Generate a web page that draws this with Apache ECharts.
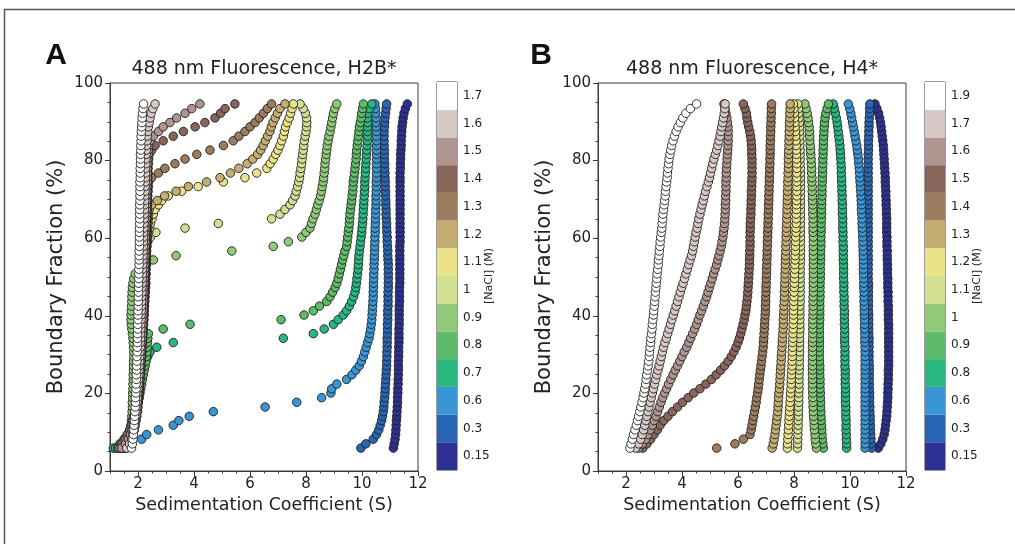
<!DOCTYPE html>
<html><head><meta charset="utf-8">
<script src="https://cdn.jsdelivr.net/npm/echarts@6/dist/echarts.min.js"></script>
<style>html,body{margin:0;padding:0;background:#fff}#c{width:1015px;height:544px}</style>
</head><body><div id="c"></div>
<script>
// Boundary fractions (%) shared by all van Holde-Weischet curves
const bf = [5.9,7.0,8.2,9.4,10.6,11.8,13.0,14.1,15.3,16.5,
17.7,18.9,20.1,21.2,22.4,23.6,24.8,26.0,27.1,28.3,
29.5,30.7,31.9,33.1,34.2,35.4,36.6,37.8,39.0,40.2,
41.3,42.5,43.7,44.9,46.1,47.3,48.4,49.6,50.8,52.0,
53.2,54.4,55.5,56.7,57.9,59.1,60.3,61.5,62.6,63.8,
65.0,66.2,67.4,68.6,69.7,70.9,72.1,73.3,74.5,75.6,
76.8,78.0,79.2,80.4,81.6,82.7,83.9,85.1,86.3,87.5,
88.7,89.8,91.0,92.2,93.4,94.6];

const concA = ['0.15','0.3','0.6','0.7','0.8','0.9','1','1.1','1.2','1.3','1.4','1.5','1.6','1.7'];
const concB = ['0.15','0.3','0.6','0.8','0.9','1','1.1','1.2','1.3','1.4','1.5','1.6','1.7','1.9'];
const bandColors = ['#2d3191','#2a65b4','#3a95d5','#29b67f','#5ebb69','#90ca78','#d2e094','#eae38a','#c4ae72','#9b7c5e','#89665c','#ae958f','#d7cac6','#ffffff'];
const xTicks = [2,4,6,8,10,12];

// Panel A: sedimentation coefficients (S) per boundary fraction
const a015 = [11.12,11.15,11.18,11.2,11.21,11.22,11.23,11.24,11.25,11.26,
11.27,11.27,11.28,11.28,11.29,11.29,11.3,11.3,11.3,11.3,
11.31,11.31,11.31,11.32,11.32,11.32,11.32,11.33,11.33,11.33,
11.33,11.33,11.34,11.34,11.34,11.34,11.35,11.35,11.35,11.35,
11.35,11.35,11.35,11.35,11.35,11.36,11.36,11.36,11.36,11.36,
11.36,11.36,11.36,11.36,11.36,11.36,11.36,11.36,11.36,11.36,
11.36,11.37,11.37,11.38,11.38,11.39,11.4,11.4,11.41,11.42,
11.43,11.45,11.47,11.5,11.55,11.62];
const a03 = [9.96,10.14,10.4,10.52,10.6,10.65,10.7,10.73,10.76,10.78,
10.79,10.81,10.82,10.83,10.84,10.85,10.86,10.87,10.88,10.88,
10.89,10.89,10.9,10.9,10.9,10.91,10.91,10.91,10.92,10.92,
10.92,10.93,10.93,10.93,10.93,10.94,10.94,10.94,10.94,10.94,
10.94,10.93,10.92,10.92,10.91,10.9,10.9,10.89,10.88,10.88,
10.87,10.86,10.86,10.85,10.85,10.84,10.84,10.83,10.83,10.82,
10.82,10.81,10.81,10.8,10.8,10.8,10.79,10.79,10.79,10.79,
10.8,10.81,10.82,10.84,10.86,10.88];
const a06 = [1.12,1.55,2.13,2.31,2.73,3.26,3.46,3.83,4.69,6.54,
7.67,8.56,8.89,8.92,9.1,9.45,9.64,9.78,9.9,9.98,
10.05,10.1,10.15,10.2,10.25,10.28,10.31,10.33,10.35,10.36,
10.37,10.38,10.39,10.4,10.4,10.41,10.41,10.42,10.42,10.43,
10.43,10.44,10.44,10.45,10.45,10.46,10.46,10.47,10.47,10.48,
10.48,10.49,10.49,10.5,10.5,10.5,10.51,10.51,10.51,10.52,
10.52,10.52,10.52,10.52,10.52,10.52,10.52,10.52,10.52,10.52,
10.51,10.5,10.5,10.49,10.48,10.46];
const a07 = [1.2,1.35,1.5,1.62,1.72,1.8,1.86,1.9,1.94,1.97,
2.0,2.03,2.05,2.08,2.1,2.13,2.16,2.2,2.24,2.28,
2.35,2.43,2.67,3.26,7.19,8.26,8.65,8.98,9.15,9.33,
9.45,9.55,9.63,9.7,9.75,9.78,9.8,9.82,9.84,9.86,
9.87,9.88,9.89,9.91,9.93,9.95,9.97,9.99,10.0,10.02,
10.03,10.04,10.05,10.06,10.07,10.08,10.09,10.1,10.1,10.11,
10.12,10.13,10.14,10.15,10.16,10.17,10.18,10.19,10.2,10.2,
10.2,10.2,10.19,10.2,10.26,10.35];
const a08 = [1.28,1.42,1.55,1.66,1.75,1.82,1.87,1.91,1.95,1.98,
2.01,2.04,2.07,2.1,2.13,2.16,2.19,2.22,2.25,2.28,
2.3,2.32,2.33,2.34,2.35,2.37,2.9,3.86,7.11,7.93,
8.26,8.48,8.74,8.86,8.95,9.04,9.1,9.15,9.19,9.23,
9.27,9.31,9.35,9.39,9.45,9.47,9.49,9.51,9.53,9.55,
9.56,9.57,9.59,9.61,9.63,9.65,9.67,9.68,9.69,9.71,
9.73,9.75,9.77,9.79,9.8,9.81,9.83,9.85,9.87,9.89,
9.91,9.94,9.97,9.99,10.02,10.05];
const a09 = [1.35,1.5,1.6,1.68,1.72,1.75,1.77,1.78,1.79,1.8,
1.8,1.81,1.81,1.82,1.82,1.83,1.83,1.84,1.84,1.84,
1.85,1.85,1.84,1.83,1.82,1.8,1.78,1.76,1.75,1.75,
1.76,1.77,1.78,1.78,1.79,1.8,1.82,1.85,1.9,2.05,
2.3,2.55,3.36,5.35,6.83,7.37,7.85,8.0,8.14,8.2,
8.25,8.32,8.37,8.42,8.47,8.52,8.55,8.58,8.61,8.63,
8.65,8.67,8.68,8.7,8.72,8.74,8.76,8.79,8.82,8.86,
8.89,8.92,8.95,8.98,9.03,9.1];
const a10 = [1.45,1.58,1.67,1.74,1.8,1.84,1.88,1.9,1.92,1.94,
1.95,1.96,1.97,1.98,1.99,2.0,2.01,2.02,2.03,2.04,
2.05,2.06,2.07,2.08,2.09,2.1,2.11,2.12,2.12,2.13,
2.13,2.14,2.14,2.15,2.15,2.16,2.16,2.17,2.18,2.19,
2.2,2.22,2.24,2.27,2.3,2.35,2.45,2.64,3.68,4.87,
6.77,7.07,7.25,7.43,7.52,7.61,7.65,7.7,7.74,7.77,
7.79,7.82,7.84,7.86,7.88,7.9,7.92,7.94,7.97,8.0,
8.02,8.03,8.02,7.98,7.9,7.79];
const a11 = [1.5,1.62,1.72,1.78,1.83,1.87,1.9,1.93,1.95,1.97,
1.98,2.0,2.01,2.02,2.03,2.04,2.05,2.06,2.07,2.08,
2.09,2.1,2.11,2.12,2.13,2.14,2.15,2.16,2.17,2.18,
2.18,2.19,2.19,2.2,2.2,2.21,2.21,2.22,2.22,2.23,
2.24,2.25,2.26,2.28,2.3,2.32,2.35,2.38,2.42,2.45,
2.5,2.55,2.61,2.73,2.85,3.08,3.56,4.15,5.05,5.82,
6.24,6.6,6.72,6.83,6.92,7.0,7.07,7.13,7.19,7.23,
7.27,7.33,7.4,7.45,7.5,7.55];
const a12 = [1.55,1.66,1.75,1.81,1.86,1.9,1.93,1.96,1.98,2.0,
2.01,2.03,2.04,2.05,2.06,2.07,2.08,2.09,2.1,2.11,
2.12,2.13,2.14,2.15,2.16,2.17,2.18,2.19,2.2,2.21,
2.22,2.23,2.24,2.25,2.26,2.27,2.28,2.28,2.29,2.29,
2.3,2.3,2.31,2.31,2.32,2.32,2.33,2.34,2.35,2.36,
2.37,2.38,2.4,2.49,2.69,2.95,3.36,3.8,4.45,4.93,
5.3,5.6,5.9,6.1,6.27,6.38,6.47,6.55,6.63,6.71,
6.76,6.82,6.9,6.98,7.07,7.25];
const a13 = [1.4,1.52,1.62,1.7,1.77,1.82,1.86,1.9,1.93,1.96,
1.98,2.0,2.02,2.04,2.05,2.07,2.08,2.1,2.11,2.12,
2.13,2.14,2.15,2.16,2.17,2.18,2.19,2.2,2.21,2.22,
2.22,2.23,2.24,2.24,2.25,2.25,2.26,2.26,2.27,2.27,
2.28,2.28,2.29,2.29,2.3,2.3,2.31,2.31,2.32,2.32,
2.33,2.33,2.34,2.34,2.35,2.35,2.36,2.37,2.38,2.49,
2.73,2.96,3.32,3.68,4.1,4.57,5.05,5.4,5.6,5.82,
6.0,6.18,6.33,6.48,6.62,6.77];
const a14 = [1.3,1.42,1.53,1.62,1.7,1.76,1.81,1.85,1.89,1.92,
1.95,1.97,1.99,2.01,2.03,2.05,2.06,2.08,2.09,2.1,
2.11,2.12,2.13,2.14,2.15,2.16,2.17,2.18,2.19,2.2,
2.2,2.21,2.22,2.22,2.23,2.23,2.24,2.24,2.25,2.25,
2.26,2.26,2.27,2.27,2.28,2.28,2.29,2.29,2.3,2.3,
2.31,2.31,2.32,2.32,2.33,2.33,2.34,2.34,2.35,2.35,
2.36,2.36,2.37,2.38,2.4,2.49,2.61,2.9,3.26,3.62,
4.04,4.39,4.75,4.95,5.11,5.46];
const a15 = [1.42,1.55,1.65,1.73,1.79,1.84,1.88,1.91,1.94,1.96,
1.98,2.0,2.02,2.03,2.05,2.06,2.07,2.08,2.09,2.1,
2.11,2.12,2.13,2.14,2.15,2.16,2.16,2.17,2.18,2.18,
2.19,2.19,2.2,2.2,2.21,2.21,2.22,2.22,2.23,2.23,
2.24,2.24,2.25,2.25,2.26,2.26,2.27,2.27,2.28,2.28,
2.29,2.29,2.3,2.3,2.31,2.31,2.32,2.32,2.33,2.33,
2.34,2.34,2.35,2.35,2.36,2.37,2.38,2.43,2.55,2.73,
2.9,3.14,3.38,3.68,3.92,4.21];
const a16 = [1.6,1.7,1.77,1.82,1.86,1.89,1.91,1.93,1.95,1.96,
1.97,1.98,1.99,2.0,2.01,2.02,2.03,2.04,2.05,2.06,
2.06,2.07,2.08,2.08,2.09,2.09,2.1,2.1,2.11,2.11,
2.12,2.12,2.13,2.13,2.14,2.14,2.15,2.15,2.16,2.16,
2.17,2.17,2.18,2.18,2.19,2.19,2.2,2.2,2.21,2.21,
2.22,2.22,2.23,2.23,2.24,2.24,2.25,2.25,2.26,2.26,
2.27,2.27,2.28,2.28,2.29,2.3,2.31,2.32,2.33,2.35,
2.37,2.4,2.43,2.47,2.53,2.61];
const a17 = [1.77,1.8,1.82,1.84,1.85,1.86,1.87,1.88,1.89,1.9,
1.91,1.91,1.92,1.93,1.93,1.94,1.94,1.95,1.95,1.96,
1.96,1.97,1.97,1.98,1.98,1.98,1.99,1.99,2.0,2.0,
2.0,2.01,2.01,2.01,2.02,2.02,2.02,2.03,2.03,2.03,
2.04,2.04,2.04,2.04,2.05,2.05,2.05,2.05,2.05,2.06,
2.06,2.06,2.06,2.06,2.07,2.07,2.07,2.07,2.07,2.08,
2.08,2.08,2.09,2.09,2.09,2.1,2.1,2.11,2.11,2.12,
2.13,2.14,2.15,2.16,2.18,2.2];

// Panel B
const b015 = [11.01,11.1,11.17,11.22,11.25,11.27,11.29,11.31,11.32,11.33,
11.34,11.35,11.35,11.36,11.36,11.37,11.37,11.37,11.38,11.38,
11.38,11.38,11.38,11.38,11.38,11.38,11.38,11.38,11.37,11.37,
11.37,11.37,11.36,11.36,11.36,11.35,11.35,11.35,11.34,11.34,
11.34,11.33,11.33,11.33,11.32,11.32,11.32,11.31,11.31,11.31,
11.31,11.3,11.3,11.29,11.29,11.28,11.28,11.27,11.26,11.26,
11.25,11.24,11.23,11.22,11.21,11.2,11.19,11.17,11.15,11.13,
11.11,11.09,11.06,11.02,10.96,10.89];
const b03 = [10.77,10.76,10.75,10.74,10.73,10.73,10.72,10.72,10.71,10.71,
10.7,10.7,10.7,10.69,10.69,10.69,10.69,10.69,10.69,10.68,
10.68,10.68,10.68,10.68,10.68,10.67,10.67,10.67,10.67,10.67,
10.66,10.66,10.66,10.66,10.66,10.66,10.66,10.65,10.65,10.65,
10.65,10.65,10.65,10.65,10.65,10.65,10.65,10.65,10.65,10.65,
10.65,10.65,10.65,10.65,10.65,10.65,10.65,10.65,10.65,10.65,
10.65,10.65,10.65,10.65,10.65,10.66,10.66,10.66,10.67,10.67,
10.68,10.68,10.69,10.7,10.7,10.71];
const b06 = [10.54,10.54,10.54,10.54,10.54,10.54,10.54,10.54,10.54,10.54,
10.54,10.54,10.54,10.54,10.54,10.54,10.54,10.54,10.54,10.54,
10.54,10.54,10.54,10.53,10.53,10.53,10.52,10.52,10.52,10.51,
10.51,10.51,10.5,10.5,10.5,10.49,10.49,10.49,10.48,10.48,
10.48,10.48,10.47,10.47,10.46,10.46,10.45,10.45,10.44,10.43,
10.43,10.42,10.41,10.41,10.4,10.39,10.38,10.37,10.36,10.35,
10.34,10.33,10.31,10.3,10.28,10.26,10.24,10.21,10.18,10.15,
10.12,10.09,10.06,10.03,9.99,9.94];
const b08 = [9.88,9.88,9.87,9.87,9.86,9.86,9.86,9.85,9.85,9.85,
9.84,9.84,9.84,9.84,9.83,9.83,9.83,9.83,9.82,9.82,
9.82,9.82,9.82,9.81,9.81,9.81,9.81,9.8,9.8,9.8,
9.8,9.79,9.79,9.79,9.78,9.78,9.78,9.77,9.77,9.77,
9.77,9.76,9.76,9.76,9.76,9.75,9.75,9.75,9.74,9.74,
9.74,9.73,9.73,9.73,9.72,9.72,9.71,9.71,9.7,9.7,
9.69,9.69,9.68,9.67,9.66,9.65,9.64,9.62,9.6,9.58,
9.56,9.54,9.51,9.48,9.44,9.4];
const b09 = [9.05,9.03,9.01,9.0,8.99,8.98,8.97,8.96,8.96,8.95,
8.95,8.94,8.94,8.93,8.93,8.93,8.92,8.92,8.92,8.91,
8.91,8.91,8.91,8.91,8.91,8.91,8.91,8.91,8.92,8.92,
8.92,8.92,8.92,8.93,8.93,8.93,8.93,8.94,8.94,8.94,
8.94,8.95,8.95,8.95,8.96,8.96,8.96,8.97,8.97,8.97,
8.98,8.98,8.98,8.99,8.99,9.0,9.0,9.0,9.01,9.01,
9.02,9.02,9.03,9.03,9.04,9.04,9.05,9.05,9.06,9.07,
9.08,9.09,9.11,9.14,9.18,9.23];
const b10 = [8.8,8.78,8.76,8.75,8.73,8.72,8.71,8.7,8.69,8.68,
8.68,8.67,8.67,8.66,8.66,8.66,8.66,8.66,8.66,8.66,
8.66,8.66,8.66,8.66,8.67,8.67,8.67,8.67,8.67,8.68,
8.68,8.68,8.68,8.68,8.69,8.69,8.69,8.69,8.69,8.69,
8.69,8.69,8.69,8.69,8.69,8.69,8.69,8.68,8.68,8.68,
8.68,8.67,8.67,8.67,8.66,8.66,8.65,8.65,8.64,8.64,
8.63,8.63,8.62,8.61,8.6,8.59,8.58,8.57,8.56,8.55,
8.54,8.52,8.5,8.47,8.43,8.39];
const b11 = [8.12,8.13,8.13,8.14,8.14,8.15,8.15,8.16,8.16,8.16,
8.17,8.17,8.17,8.18,8.18,8.18,8.18,8.19,8.19,8.19,
8.19,8.2,8.2,8.2,8.2,8.2,8.21,8.21,8.21,8.21,
8.21,8.21,8.22,8.22,8.22,8.22,8.22,8.22,8.22,8.22,
8.22,8.23,8.23,8.23,8.23,8.23,8.23,8.23,8.23,8.23,
8.23,8.23,8.23,8.23,8.23,8.23,8.23,8.23,8.23,8.23,
8.23,8.23,8.22,8.22,8.22,8.22,8.21,8.21,8.21,8.2,
8.2,8.19,8.18,8.17,8.16,8.14];
const b12 = [7.76,7.77,7.78,7.79,7.8,7.81,7.82,7.83,7.84,7.85,
7.86,7.87,7.88,7.89,7.9,7.9,7.91,7.92,7.93,7.93,
7.94,7.94,7.95,7.95,7.96,7.96,7.97,7.97,7.98,7.98,
7.98,7.99,7.99,8.0,8.0,8.01,8.01,8.02,8.02,8.03,
8.03,8.04,8.04,8.05,8.05,8.06,8.06,8.07,8.07,8.08,
8.08,8.08,8.09,8.09,8.09,8.1,8.1,8.1,8.1,8.1,
8.1,8.1,8.1,8.09,8.09,8.08,8.08,8.07,8.06,8.05,
8.04,8.03,8.02,8.01,8.0,7.98];
const b13 = [7.22,7.26,7.29,7.32,7.34,7.36,7.38,7.4,7.42,7.43,
7.44,7.45,7.46,7.48,7.49,7.5,7.51,7.52,7.53,7.54,
7.55,7.56,7.57,7.58,7.59,7.6,7.61,7.62,7.62,7.63,
7.64,7.64,7.65,7.66,7.66,7.67,7.67,7.68,7.68,7.69,
7.69,7.7,7.7,7.71,7.71,7.72,7.72,7.73,7.73,7.74,
7.74,7.75,7.75,7.76,7.76,7.77,7.77,7.78,7.78,7.79,
7.79,7.8,7.8,7.8,7.81,7.81,7.82,7.82,7.83,7.83,
7.84,7.84,7.85,7.85,7.86,7.86];
const b14 = [5.24,5.89,6.19,6.43,6.47,6.5,6.53,6.56,6.59,6.62,
6.65,6.67,6.7,6.72,6.74,6.76,6.78,6.8,6.82,6.84,
6.86,6.88,6.9,6.91,6.92,6.93,6.94,6.95,6.96,6.97,
6.98,6.98,6.99,6.99,7.0,7.0,7.01,7.01,7.02,7.02,
7.03,7.03,7.04,7.04,7.05,7.05,7.06,7.06,7.07,7.07,
7.08,7.08,7.09,7.09,7.1,7.1,7.11,7.11,7.12,7.12,
7.13,7.13,7.14,7.14,7.15,7.15,7.15,7.16,7.16,7.17,
7.17,7.18,7.18,7.19,7.19,7.2];
const b15 = [2.6,2.75,2.88,3.0,3.12,3.22,3.35,3.5,3.66,3.84,
4.02,4.22,4.42,4.64,4.85,5.05,5.22,5.38,5.52,5.65,
5.76,5.85,5.93,6.0,6.05,6.1,6.14,6.18,6.22,6.25,
6.28,6.3,6.32,6.34,6.35,6.36,6.37,6.38,6.39,6.4,
6.41,6.41,6.42,6.42,6.43,6.43,6.43,6.43,6.44,6.44,
6.45,6.46,6.46,6.47,6.47,6.48,6.48,6.49,6.49,6.5,
6.5,6.5,6.5,6.5,6.49,6.49,6.48,6.47,6.45,6.42,
6.38,6.35,6.32,6.3,6.25,6.19];
const b16 = [2.45,2.58,2.7,2.78,2.86,2.94,3.0,3.07,3.13,3.19,
3.25,3.31,3.38,3.45,3.52,3.6,3.68,3.76,3.84,3.92,
4.0,4.08,4.17,4.24,4.31,4.38,4.45,4.52,4.58,4.64,
4.7,4.76,4.82,4.88,4.93,4.98,5.03,5.08,5.13,5.18,
5.24,5.28,5.32,5.36,5.4,5.43,5.46,5.48,5.5,5.52,
5.53,5.54,5.55,5.55,5.56,5.56,5.57,5.57,5.57,5.58,
5.58,5.59,5.6,5.61,5.62,5.63,5.64,5.65,5.65,5.65,
5.64,5.62,5.6,5.57,5.54,5.5];
const b17 = [2.35,2.45,2.52,2.58,2.63,2.67,2.71,2.74,2.78,2.82,
2.86,2.9,2.94,2.98,3.02,3.06,3.1,3.14,3.18,3.22,
3.26,3.3,3.34,3.39,3.44,3.49,3.54,3.59,3.64,3.69,
3.74,3.79,3.84,3.89,3.94,3.99,4.04,4.09,4.14,4.19,
4.24,4.29,4.34,4.38,4.41,4.44,4.47,4.5,4.54,4.57,
4.6,4.64,4.68,4.72,4.76,4.8,4.84,4.89,4.94,4.98,
5.02,5.06,5.1,5.14,5.19,5.24,5.28,5.32,5.36,5.39,
5.42,5.45,5.48,5.51,5.53,5.54];
const b19 = [2.14,2.18,2.23,2.27,2.32,2.37,2.41,2.45,2.49,2.53,
2.57,2.61,2.64,2.67,2.7,2.72,2.74,2.77,2.79,2.81,
2.83,2.84,2.86,2.88,2.89,2.91,2.93,2.94,2.96,2.98,
2.99,3.01,3.02,3.04,3.05,3.07,3.08,3.1,3.11,3.13,
3.15,3.16,3.18,3.19,3.21,3.22,3.24,3.26,3.28,3.29,
3.31,3.32,3.34,3.36,3.38,3.4,3.41,3.43,3.45,3.47,
3.48,3.5,3.52,3.54,3.57,3.6,3.63,3.68,3.73,3.79,
3.86,3.94,4.03,4.14,4.3,4.52];

const curvesA = [a015,a03,a06,a07,a08,a09,a10,a11,a12,a13,a14,a15,a16,a17];
const curvesB = [b015,b03,b06,b08,b09,b10,b11,b12,b13,b14,b15,b16,b17,b19];

const FONT = 'DejaVu Sans';
const INK = '#222';
const AX = '#3a3a3a';

function mainX(g){ return {type:'value', gridIndex:g, min:1, max:12, position:'bottom',
  axisLine:{show:true, onZero:false, lineStyle:{color:AX, width:1}},
  axisTick:{show:true, customValues:xTicks, length:5, lineStyle:{color:AX}},
  axisLabel:{customValues:xTicks, fontFamily:FONT, fontSize:15, color:INK, margin:6},
  splitLine:{show:false},
  name:'Sedimentation Coefficient (S)', nameLocation:'middle', nameGap:25,
  nameTextStyle:{fontFamily:FONT, fontSize:17.5, color:INK}}; }
function minorX(g){ return {type:'value', gridIndex:g, min:1, max:12, interval:0.5, position:'bottom',
  axisLine:{show:false, onZero:false}, axisTick:{show:true, length:2.5, lineStyle:{color:AX}},
  axisLabel:{show:false}, splitLine:{show:false}}; }
function mainY(g){ return {type:'value', gridIndex:g, min:0, max:100, interval:20,
  axisLine:{show:true, onZero:false, lineStyle:{color:AX}},
  axisTick:{show:true, length:5, lineStyle:{color:AX}},
  minorTick:{show:true, splitNumber:4, length:2.5, lineStyle:{color:AX}},
  axisLabel:{fontFamily:FONT, fontSize:15, color:INK, margin:7},
  splitLine:{show:false}, minorSplitLine:{show:false},
  name:'Boundary Fraction (%)', nameLocation:'middle', nameGap:43,
  nameTextStyle:{fontFamily:FONT, fontSize:21, color:INK}}; }
function cbX(g){ return {type:'value', gridIndex:g, min:0, max:1, show:false}; }
function cbY(g, labels){ return {type:'category', gridIndex:g, data:labels, position:'right',
  axisLine:{show:false}, axisTick:{show:true, alignWithLabel:true, length:4, lineStyle:{color:AX}},
  axisLabel:{fontFamily:FONT, fontSize:12, color:INK, margin:6},
  name:'[NaCl] (M)', nameLocation:'middle', nameRotate:90, nameGap:27, nameMoveOverlap:false,
  nameTextStyle:{fontFamily:FONT, fontSize:11, color:INK}}; }

function scatter(curves, xi, yi){
  return curves.map((xs, i) => ({
    type:'scatter', xAxisIndex:xi, yAxisIndex:yi, symbol:'circle', symbolSize:8.5,
    data: xs.map((x, k) => [x, bf[k]]),
    itemStyle:{color:bandColors[i], borderColor:'#1e1e1e', borderWidth:0.9, opacity:1},
    emphasis:{disabled:true}, silent:true, clip:true, z:2
  }));
}
function colorbar(labels, xi, yi){
  return {type:'bar', xAxisIndex:xi, yAxisIndex:yi, barWidth:'100%', barCategoryGap:'0%', silent:true,
    data: labels.map((c, i) => ({value:1, itemStyle:{color:bandColors[i]}}))};
}

const grids = [
  {left:110, top:83, width:308, height:388},
  {left:598, top:83, width:308, height:388},
  {left:437, top:82, width:20, height:388},
  {left:925, top:82, width:20, height:388}
].map(g => Object.assign({show:true, borderColor:AX, borderWidth:1, backgroundColor:'transparent', containLabel:false}, g));

const option = {
  animation:false,
  backgroundColor:'#ffffff',
  grid: grids,
  xAxis:[mainX(0), minorX(0), mainX(1), minorX(1), cbX(2), cbX(3)],
  yAxis:[mainY(0), mainY(1), cbY(2, concA), cbY(3, concB)],
  series:[].concat(
    scatter(curvesA, 0, 0),
    scatter(curvesB, 2, 1),
    [colorbar(concA, 4, 2), colorbar(concB, 5, 3)]
  ),
  graphic:[
    {type:'rect', shape:{x:4.5, y:9.5, width:1100, height:700}, style:{fill:'none', stroke:'#555', lineWidth:1.5}, silent:true},
    {type:'text', style:{x:264, y:69, text:'488 nm Fluorescence, H2B*', textAlign:'center', textVerticalAlign:'middle', font:'19px "DejaVu Sans"', fill:INK}},
    {type:'text', style:{x:752, y:69, text:'488 nm Fluorescence, H4*', textAlign:'center', textVerticalAlign:'middle', font:'19px "DejaVu Sans"', fill:INK}},
    {type:'text', style:{x:56, y:56, text:'A', textAlign:'center', textVerticalAlign:'middle', font:'bold 30px "Liberation Sans"', fill:'#111'}},
    {type:'text', style:{x:541, y:56, text:'B', textAlign:'center', textVerticalAlign:'middle', font:'bold 30px "Liberation Sans"', fill:'#111'}}
  ]
};

const chart = echarts.init(document.getElementById('c'), null, {renderer:'canvas'});
chart.setOption(option);
</script>
</body></html>
